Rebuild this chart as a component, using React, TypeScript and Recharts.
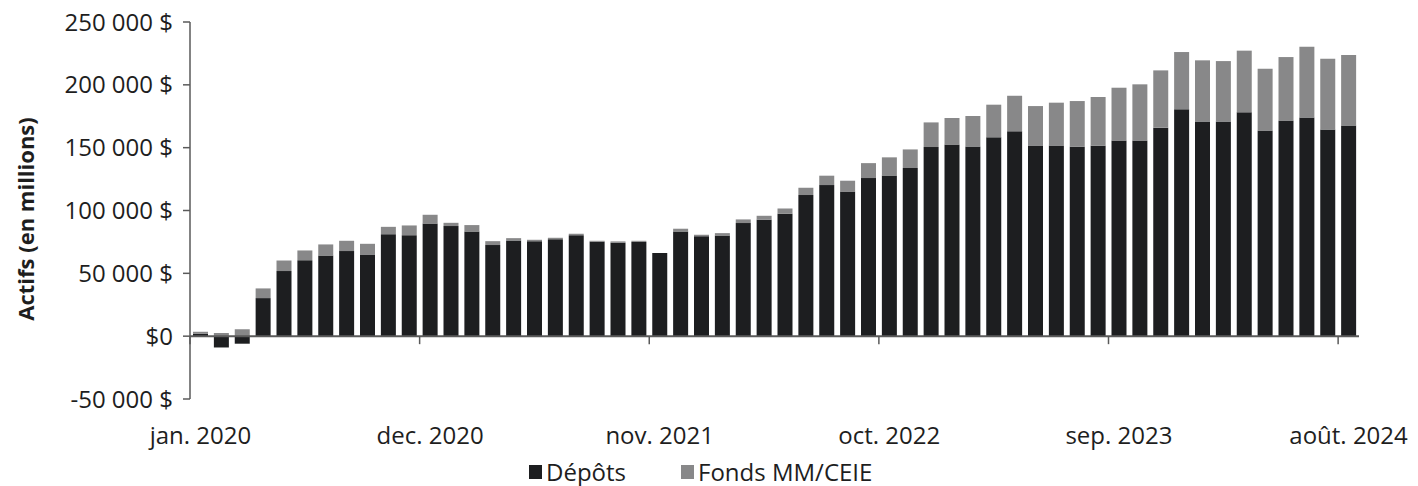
import { Bar, BarChart, ReferenceLine, XAxis, YAxis } from "recharts"

// mois, jan. 2020 -> août 2024
const monthNames = ["jan.", "fév.", "mars", "avr.", "mai", "juin", "juil.", "août.", "sep.", "oct.", "nov.", "dec."]
const years = [2020, 2021, 2022, 2023, 2024]

// Dépôts (en millions $)
const depots = [
  2000, -9000, -6000, 30300, 51800, 60500, 64200, 67700, 65000, 81200, 80400, 89700,
  87600, 83300, 72500, 76200, 75600, 77200, 80400, 75100, 74300, 75000, 66100, 83300,
  79600, 80100, 90000, 92600, 97400, 112300, 120200, 115200, 125800, 127900, 133800, 150500,
  152600, 151000, 158200, 163000, 151800, 151800, 150700, 151500, 155800, 155800, 165900, 180500,
  170900, 170900, 178100, 163700, 171700, 174100, 164500, 167700,
]

// Fonds MM/CEIE (en millions $)
const fonds = [
  1500, 2500, 5500, 7700, 8400, 7700, 8800, 8200, 8500, 5800, 7700, 6900,
  2600, 5100, 3100, 1800, 1100, 1100, 1100, 800, 1100, 900, 0, 2200,
  1100, 1900, 2900, 3200, 4200, 5800, 7500, 8500, 11900, 14400, 14800, 19600,
  21000, 24200, 26000, 28300, 31300, 34000, 36400, 38800, 41900, 44600, 45600, 45600,
  48600, 48000, 49100, 49100, 50400, 56300, 56300, 56000,
]

const yTicks = [-50000, 0, 50000, 100000, 150000, 200000, 250000]

const months = years.flatMap(y => monthNames.map(m => `${m} ${y}`)).slice(0, depots.length)
const data = months.map((month, i) => ({ month, depots: depots[i], fonds: fonds[i] }))

const FONT = "'Open Sans', sans-serif"
const TEXT = "#1e1e1e"
const AXIS = "#5a5a5a"
const DARK = "#1d1e20"
const GREY = "#888889"

const W = 1402
const H = 478
const TOP = 14
const PLOT_H = 377
const Y_AXIS_W = 182
const RIGHT = 51
const X_AXIS_H = 40
const BOTTOM = H - TOP - PLOT_H - X_AXIS_H
const Y_MIN = -50000
const Y_MAX = 250000
const ZERO_Y = TOP + (PLOT_H * Y_MAX) / (Y_MAX - Y_MIN)
const BAND = (W - Y_AXIS_W - RIGHT) / depots.length

const formatY = (v: number) => {
  if (v === 0) return "$0"
  const s = String(Math.abs(v)).replace(/\B(?=(\d{3})+(?!\d))/g, " ")
  return `${v < 0 ? "-" : ""}${s} $`
}

function MonthTick({ x, payload }: any) {
  const lx = x - BAND / 2
  return (
    <g>
      <line x1={lx} x2={lx} y1={ZERO_Y} y2={ZERO_Y + 8} stroke={AXIS} strokeWidth={1.5} />
      <text x={x} y={426} textAnchor="middle" dominantBaseline="central" fontFamily={FONT} fontSize={24} fill={TEXT}>
        {payload.value}
      </text>
    </g>
  )
}

function LegendItem({ color, label }: { color: string; label: string }) {
  return (
    <div style={{ display: "flex", alignItems: "center" }}>
      <div style={{ width: 13, height: 14, background: color, marginRight: 4 }} />
      <span>{label}</span>
    </div>
  )
}

export default function App() {
  return (
    <div style={{ position: "relative", width: W, height: H, fontFamily: FONT }}>
      <BarChart
        width={W}
        height={H}
        data={data}
        stackOffset="sign"
        barCategoryGap={3}
        margin={{ top: TOP, right: RIGHT, bottom: BOTTOM, left: 0 }}
      >
        <XAxis
          dataKey="month"
          interval={10}
          axisLine={false}
          tickLine={false}
          height={X_AXIS_H}
          tick={(p: any) => <MonthTick {...p} />}
        />
        <YAxis
          width={Y_AXIS_W}
          domain={[Y_MIN, Y_MAX]}
          ticks={yTicks}
          interval={0}
          tickFormatter={formatY}
          tickSize={7}
          tickMargin={10}
          stroke={AXIS}
          strokeWidth={1.5}
          tick={{ fontFamily: FONT, fontSize: 24, fill: TEXT }}
          label={{
            position: "insideLeft",
            content: () => (
              <text
                x={17}
                y={211}
                transform={`rotate(-90 17 211)`}
                textAnchor="middle"
                dominantBaseline="central"
                fontFamily={FONT}
                fontSize={22}
                fontWeight={700}
                fill={TEXT}
              >
                Actifs (en millions)
              </text>
            ),
          }}
        />
        <Bar dataKey="depots" stackId="a" fill={DARK} isAnimationActive={false} />
        <Bar dataKey="fonds" stackId="a" fill={GREY} isAnimationActive={false} />
        <ReferenceLine y={0} stroke={AXIS} strokeWidth={2} />
      </BarChart>
      <div
        style={{
          position: "absolute",
          left: 521,
          top: 450,
          display: "flex",
          gap: 55,
          fontSize: 24,
          color: TEXT,
          lineHeight: "28px",
        }}
      >
        <LegendItem color={DARK} label="Dépôts" />
        <LegendItem color={GREY} label="Fonds MM/CEIE" />
      </div>
    </div>
  )
}
